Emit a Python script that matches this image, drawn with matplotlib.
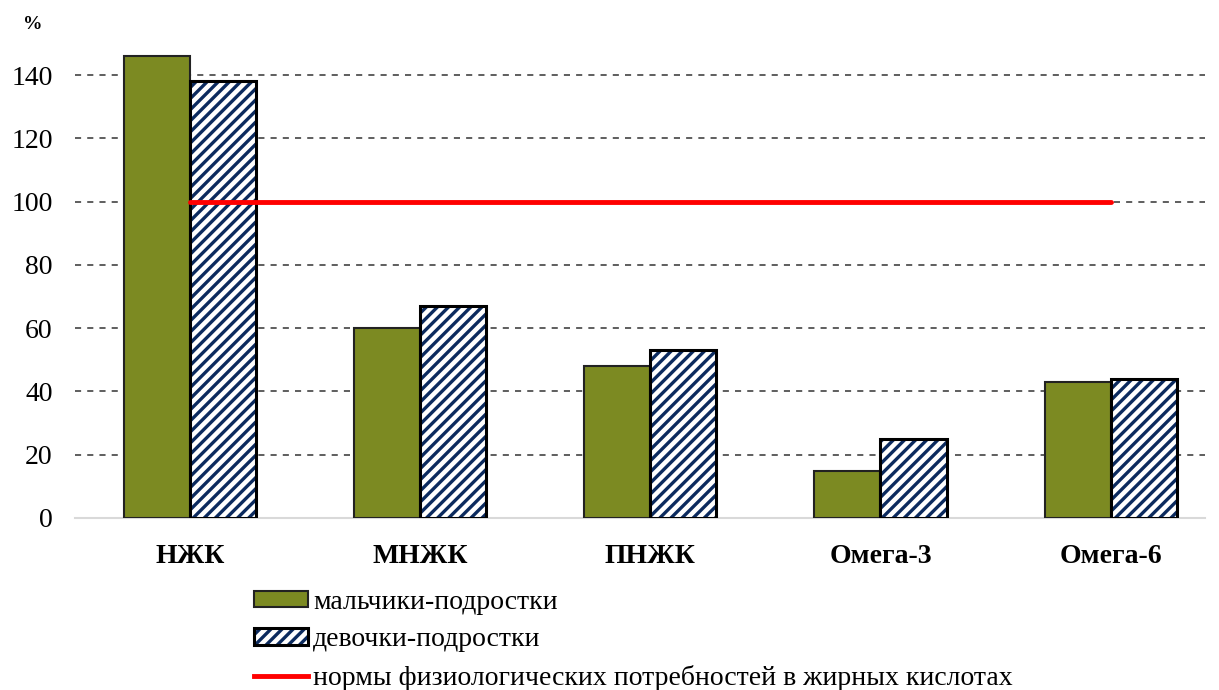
import matplotlib
matplotlib.use("Agg")
import matplotlib.pyplot as plt
import numpy as np
from matplotlib.patches import Patch
from matplotlib.lines import Line2D
from matplotlib.legend_handler import HandlerTuple

categories = ["НЖК", "МНЖК", "ПНЖК", "Омега-3", "Омега-6"]
boys = [146, 60, 48, 15, 43]
girls = [138, 67, 53, 25, 44]
norm = [100, 100, 100, 100, 100]
yticks = [0, 20, 40, 60, 80, 100, 120, 140]
series_labels = ["мальчики-подростки", "девочки-подростки",
                 "нормы физиологических потребностей в жирных кислотах"]

plt.rcParams['font.family'] = ['Liberation Serif', 'DejaVu Serif']
plt.rcParams['hatch.linewidth'] = 2.4

NAVY = '#0b2a5e'
GREEN = '#7c8a22'

fig = plt.figure(figsize=(12.19, 6.9), dpi=100)
ax = fig.add_axes([0.0615, 0.2493, 0.927, 0.6878])

x = np.arange(len(categories))
w = 0.287
ax.bar(x - w/2, boys, w, color=GREEN, edgecolor='#222222', linewidth=1.5, zorder=3)
ax.bar(x + w/2, girls, w, color='white', edgecolor=NAVY, hatch='///', linewidth=0, zorder=3)
ax.bar(x + w/2, girls, w, fill=False, edgecolor='black', linewidth=2.2, zorder=3.5)
ax.plot(x, norm, color='#ff0000', linewidth=3.5, zorder=4, solid_capstyle='round')

ax.set_xlim(-0.5, 4.41)
ax.set_ylim(0, 150)
ax.set_yticks(yticks)
ax.set_yticklabels([str(t) for t in yticks], fontsize=20)
ax.set_xticks(x)
ax.set_xticklabels(categories, fontsize=20, fontweight='bold')
ax.tick_params(axis='both', length=0)
ax.tick_params(axis='y', pad=16)
ax.tick_params(axis='x', pad=19)
for t in yticks[1:]:
    ax.axhline(t, color='#333333', linestyle=(0, (4, 4)), linewidth=1.1, zorder=1)
for s in ['top', 'right', 'left']:
    ax.spines[s].set_visible(False)
ax.spines['bottom'].set_color('#d9d9d9')
ax.spines['bottom'].set_linewidth(1.5)

fig.text(0.027, 0.965, "%", fontsize=14, fontweight='bold', ha='center', va='center')

h_boys = Patch(facecolor=GREEN, edgecolor='#222222', linewidth=1.5)
h_girls_fill = Patch(facecolor='white', edgecolor=NAVY, hatch='///', linewidth=0)
h_girls_edge = Patch(fill=False, edgecolor='black', linewidth=2.2)
h_norm = Line2D([0], [0], color='#ff0000', linewidth=3.5)
leg = fig.legend([h_boys, (h_girls_fill, h_girls_edge), h_norm], series_labels,
                 handler_map={tuple: HandlerTuple(ndivide=1, pad=0)},
                 loc='upper left', bbox_to_anchor=(0.208, 0.145),
                 frameon=False, fontsize=20, handlelength=1.95, handleheight=0.55,
                 handletextpad=0.2, labelspacing=0.45, borderaxespad=0, borderpad=0)

fig.savefig("out.png", dpi=100)
